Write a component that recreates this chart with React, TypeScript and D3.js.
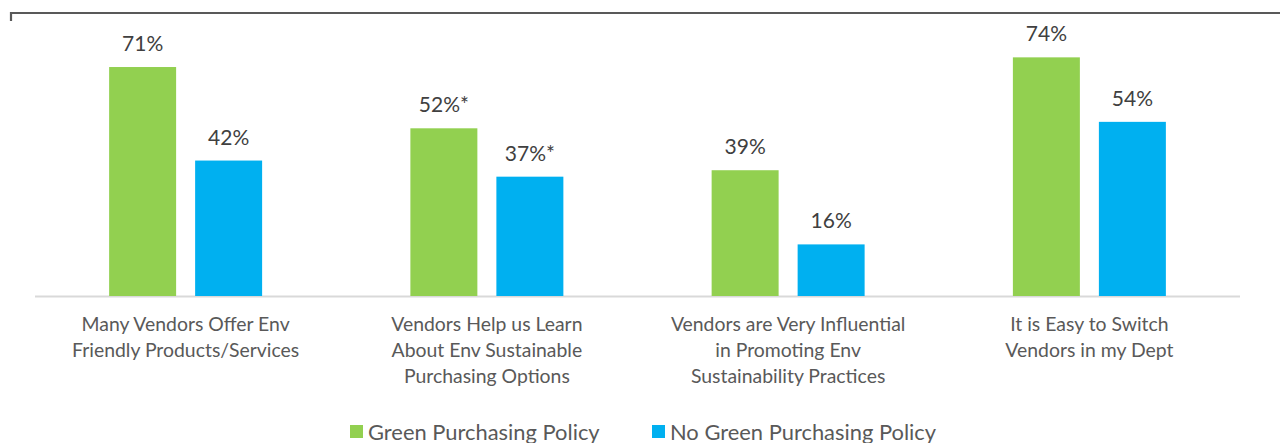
import React from "react";
import * as d3 from "d3";

const categories: string[][] = [
  ["Many Vendors Offer Env", "Friendly Products/Services"],
  ["Vendors Help us Learn", "About Env Sustainable", "Purchasing Options"],
  ["Vendors are Very Influential", "in Promoting Env", "Sustainability Practices"],
  ["It is Easy to Switch", "Vendors in my Dept"],
];
const seriesNames = ["Green Purchasing Policy", "No Green Purchasing Policy"];
const greenValues = [71, 52, 39, 74];
const noGreenValues = [42, 37, 16, 54];
const greenLabels = ["71%", "52%*", "39%", "74%"];
const noGreenLabels = ["42%", "37%*", "16%", "54%"];
const colors = ["#92D050", "#00B0F0"];

const W = 1280;
const H = 443;
const FONT = "Lato, 'Open Sans', sans-serif";

export default function App() {
  const x0 = d3.scaleBand<number>().domain(d3.range(categories.length)).range([35, 1240]).paddingInner(0).paddingOuter(0);
  const y = d3.scaleLinear().domain([0, 80]).range([296, 38]);
  const step = x0.bandwidth();
  const x1 = d3.scaleBand<number>().domain([0, 1]).range([0, step]).paddingInner(0.221).paddingOuter(0.862);
  const series = [greenValues, noGreenValues];
  const labels = [greenLabels, noGreenLabels];

  return (
    <svg width={W} height={H} style={{ position: "absolute", left: 0, top: 0 }} fontFamily={FONT}>
      <rect width={W} height={H} fill="#fff" />
      <path d="M11,21 V13 H1280" fill="none" stroke="#595959" strokeWidth={2.2} />
      <line x1={35} x2={1240} y1={y(0) + 0.5} y2={y(0) + 0.5} stroke="#D9D9D9" strokeWidth={2} />
      {categories.map((cat, i) => (
        <g key={i} transform={`translate(${x0(i)},0)`}>
          {series.map((vals, s) => {
            const bx = x1(s)!;
            const bw = x1.bandwidth();
            return (
              <g key={s}>
                <rect x={bx} y={y(vals[i])} width={bw} height={y(0) - y(vals[i])} fill={colors[s]} />
                <text x={bx + bw / 2} y={y(vals[i]) - 16} textAnchor="middle" fontSize={21} fill="#404040">
                  {labels[s][i]}
                </text>
              </g>
            );
          })}
          {cat.map((line, k) => (
            <text key={k} x={step / 2} y={330.5 + k * 26} textAnchor="middle" fontSize={19.4} fill="#595959">
              {line}
            </text>
          ))}
        </g>
      ))}
      <g>
        <rect x={350} y={425} width={13} height={13} fill={colors[0]} />
        <text x={368} y={439.5} fontSize={21.9} fill="#595959">{seriesNames[0]}</text>
        <rect x={652} y={425} width={13} height={13} fill={colors[1]} />
        <text x={670} y={439.5} fontSize={21.9} fill="#595959">{seriesNames[1]}</text>
      </g>
    </svg>
  );
}
